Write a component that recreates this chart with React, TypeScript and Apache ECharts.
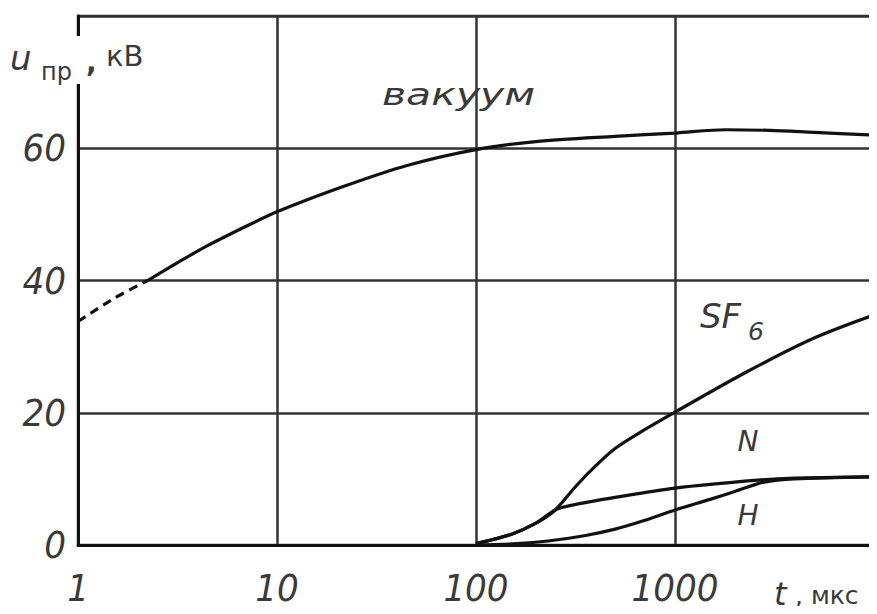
import React, { useEffect, useRef } from "react";
import * as echarts from "echarts";

// time, µs (log axis) and breakdown voltage, kV
const vacuumDashT = [1, 1.5, 2.24];
const vacuumDashU = [33.8, 37.2, 40];
const vacuumT = [2.24, 3, 4.5, 7, 10, 21, 45, 100, 200, 500, 1000, 1800, 3000, 5000, 10000];
const vacuumU = [40, 42.3, 45.3, 48.2, 50.4, 54.1, 57.4, 59.8, 61, 61.8, 62.3, 62.8, 62.7, 62.4, 62];
const sf6T = [100, 150, 200, 250, 320, 400, 500, 700, 1000, 2300, 5000, 10000];
const sf6U = [0.2, 1.6, 3.3, 5.3, 9.0, 12.0, 14.6, 17.4, 20.1, 26.2, 31.3, 34.8];
const nT = [100, 150, 200, 250, 300, 500, 1000, 2600, 4000, 10000];
const nU = [0.2, 1.6, 3.3, 5.3, 6.0, 7.2, 8.6, 9.8, 10.1, 10.3];
const hT = [100, 160, 230, 350, 500, 700, 1000, 1500, 2000, 2800, 4000, 10000];
const hU = [0, 0.2, 0.6, 1.4, 2.4, 3.7, 5.3, 6.9, 8.1, 9.5, 10.0, 10.3];

const xTickLabels = ["1", "10", "100", "1000"];
const yTickLabels = ["0", "20", "40", "60"];

const pairs = (t: number[], u: number[]) => t.map((v, i) => [v, u[i]]);

const numFont = "'Liberation Sans Narrow', 'DejaVu Sans Condensed', 'Roboto Condensed', Roboto, sans-serif";
const txtFont = "'DejaVu Sans', 'Noto Sans', sans-serif";
const ink = "#111";
const gridInk = "#333";
const labelInk = "#3a3a3a";

export default function App() {
  const ref = useRef<HTMLDivElement>(null);
  useEffect(() => {
    if (!ref.current) return;
    const chart = echarts.init(ref.current, null, { renderer: "svg" });
    const lineBase = {
      type: "line" as const,
      showSymbol: false,
      smooth: 0.3,
      lineStyle: { color: ink, width: 3.2 },
      itemStyle: { color: ink },
    };
    chart.setOption({
      animation: false,
      backgroundColor: "#fff",
      grid: {
        left: 78,
        right: 3,
        top: 16,
        bottom: 69,
        show: true,
        borderColor: gridInk,
        borderWidth: 2.5,
      },
      xAxis: {
        type: "log",
        logBase: 10,
        min: 1,
        max: 10000,
        axisLine: { show: true, lineStyle: { color: ink, width: 3 } },
        axisTick: { show: false },
        splitLine: { show: true, lineStyle: { color: gridInk, width: 2.5 } },
        axisLabel: {
          margin: 24,
          fontFamily: numFont,
          fontStyle: "italic",
          fontSize: 38,
          color: labelInk,
          formatter: (v: number) => {
            const s = String(Math.round(v));
            return xTickLabels.includes(s) ? s : "";
          },
        },
      },
      yAxis: {
        type: "value",
        min: 0,
        max: 80,
        interval: 20,
        axisLine: { show: true, lineStyle: { color: ink, width: 3 } },
        axisTick: { show: false },
        splitLine: { show: true, lineStyle: { color: gridInk, width: 2.5 } },
        axisLabel: {
          margin: 12,
          fontFamily: numFont,
          fontStyle: "italic",
          fontSize: 38,
          color: labelInk,
          formatter: (v: number) => {
            const s = String(v);
            return yTickLabels.includes(s) ? s : "";
          },
        },
      },
      series: [
        {
          ...lineBase,
          name: "вакуум (экстраполяция)",
          data: pairs(vacuumDashT, vacuumDashU),
          lineStyle: { color: ink, width: 3.2, type: [9, 6] },
        },
        { ...lineBase, name: "вакуум", data: pairs(vacuumT, vacuumU) },
        { ...lineBase, name: "SF6", data: pairs(sf6T, sf6U) },
        { ...lineBase, name: "N", data: pairs(nT, nU) },
        { ...lineBase, name: "H", data: pairs(hT, hU) },
      ],
      graphic: [
        // gap in the left axis line behind the axis title
        { type: "rect", z: 100, shape: { x: 71, y: 36, width: 14, height: 48 }, style: { fill: "#fff" } },
        { type: "text", z: 101, x: 10, y: 58, style: { text: "u", font: `italic 34px ${txtFont}`, fill: labelInk, align: "left", verticalAlign: "middle" } },
        { type: "text", z: 101, x: 41, y: 72, style: { text: "пр", font: `24px ${txtFont}`, fill: labelInk, align: "left", verticalAlign: "middle" } },
        { type: "text", z: 101, x: 86, y: 62, style: { text: ",", font: `bold 28px ${txtFont}`, fill: labelInk, align: "left", verticalAlign: "middle" } },
        { type: "text", z: 101, x: 106, y: 56, style: { text: "кВ", font: `29px ${txtFont}`, fill: labelInk, align: "left", verticalAlign: "middle" } },
        // x-axis title
        { type: "text", z: 101, x: 774, y: 594, style: { text: "t", font: `italic 32px ${txtFont}`, fill: labelInk, align: "left", verticalAlign: "middle" } },
        { type: "text", z: 101, x: 795, y: 595, style: { text: ", мкс", font: `25px ${txtFont}`, fill: labelInk, align: "left", verticalAlign: "middle" } },
        // curve labels
        { type: "text", z: 101, x: 382, y: 94, scaleX: 1.32, style: { text: "вакуум", font: `italic 31px ${txtFont}`, fill: labelInk, align: "left", verticalAlign: "middle" } },
        { type: "text", z: 101, x: 700, y: 316, style: { text: "SF", font: `italic 34px ${txtFont}`, fill: labelInk, align: "left", verticalAlign: "middle" } },
        { type: "text", z: 101, x: 748, y: 331, style: { text: "6", font: `italic 25px ${txtFont}`, fill: labelInk, align: "left", verticalAlign: "middle" } },
        { type: "text", z: 101, x: 748, y: 441, style: { text: "N", font: `italic 28px ${txtFont}`, fill: labelInk, align: "center", verticalAlign: "middle" } },
        { type: "text", z: 101, x: 748, y: 515, style: { text: "H", font: `italic 28px ${txtFont}`, fill: labelInk, align: "center", verticalAlign: "middle" } },
      ],
    });
    return () => chart.dispose();
  }, []);
  return <div ref={ref} style={{ width: 877, height: 614, margin: -8 }} />;
}
